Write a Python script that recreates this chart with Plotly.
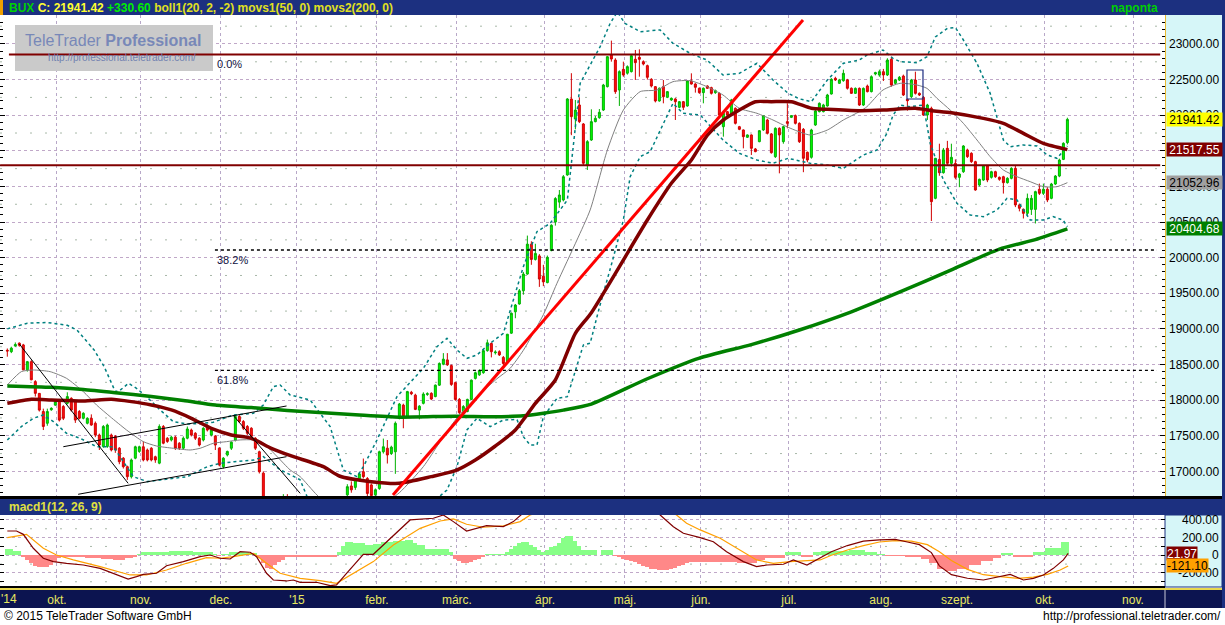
import plotly.graph_objects as go

W, H = 1225, 625
PR = 1165.0  # right edge of plotting area (px)


def pxx(p):
    return p / PR


def pxy(p):
    return 1 - p / H


# ---------------- DATA ----------------
opens = [
    18700, 18680, 18760, 18800, 18775, 18425, 18540, 18260, 18095, 17840,
    17675, 17865, 17930, 17980, 17910, 17955, 18025, 17980, 17840, 17745,
    17675, 17745, 17675, 17510, 17350, 17350, 17510, 17490, 17325, 17185,
    17065, 16925, 17185, 17280, 17345, 17300, 17325, 17205, 17115, 17630,
    17465, 17440, 17480, 17395, 17325, 17465, 17580, 17535, 17465, 17440,
    17620, 17510, 17495, 17325, 17065, 17230, 17325, 17440, 17770, 17700,
    17630, 17605, 17465, 17275, 16975, 16450, 16200, 16100, 16250, 16500,
    16600, 16450, 16550, 16300, 16100, 16200, 16000, 16150, 16300, 16250,
    16400, 16350, 16500, 16450, 16550, 16670, 16795, 16775, 16890, 16995,
    16900, 16810, 16670, 16760, 17275, 17325, 17250, 17275, 17745, 17930,
    17770, 18110, 18070, 17860, 17955, 18080, 18095, 18050, 18210, 18505,
    18565, 18485, 18245, 18010, 17830, 17840, 18010, 18305, 18355, 18385,
    18695, 18795, 18665, 18680, 18600, 18540, 18940, 19240, 19350, 19535,
    19770, 20190, 19975, 20025, 19740, 19650, 20100, 20500, 20780, 20810,
    21161, 22228, 21947, 22144, 21877, 21301, 21652, 21910, 21966, 22073,
    22401, 22846, 22775, 22354, 22644, 22590, 22612, 22785, 22813, 22752,
    22696, 22504, 22401, 22200, 22401, 22251, 22214, 22228, 22111, 22190,
    22130, 22481, 22438, 22378, 22317, 22410, 22387, 22317, 22307, 21839,
    22050, 22003, 22097, 21839, 21793, 21690, 21723, 21526, 21629, 21793,
    21933, 21737, 21418, 21816, 21629, 21910, 21970, 21994, 21886, 21802,
    21479, 21409, 21863, 22050, 22050, 22130, 22298, 22518, 22448, 22485,
    22495, 22378, 22307, 22377, 22143, 22410, 22331, 22579, 22565, 22611,
    22565, 22785, 22448, 22494, 22550, 22223, 22260, 22494, 22307, 22251,
    22003, 22097, 20833, 21380, 21193, 21535, 21324, 21324, 21128, 21207,
    21512, 21465, 21348, 21020, 21090, 21287, 21128, 21207, 21128, 21137,
    21053, 21114, 21254, 20740, 20679, 20622, 20678, 20678, 20960, 20903,
    20960, 20833, 21034, 21146, 21380, 21615]
highs = [
    18725, 18750, 18810, 18810, 18790, 18550, 18560, 18280, 18100, 17880,
    17880, 17900, 18000, 18000, 17930, 18110, 18040, 18000, 17860, 17830,
    17760, 17800, 17700, 17530, 17650, 17670, 17530, 17510, 17340, 17200,
    17080, 17180, 17360, 17360, 17420, 17320, 17340, 17220, 17660, 17650,
    17480, 17500, 17500, 17410, 17490, 17630, 17600, 17550, 17480, 17620,
    17660, 17600, 17510, 17340, 17200, 17290, 17420, 17800, 17790, 17720,
    17650, 17620, 17480, 17290, 17000, 16500, 16300, 16300, 16550, 16680,
    16680, 16600, 16580, 16350, 16250, 16250, 16200, 16350, 16350, 16450,
    16450, 16550, 16550, 16600, 16650, 16820, 16860, 16900, 16990, 17180,
    16920, 16830, 16760, 17290, 17460, 17440, 17360, 17700, 17960, 17950,
    18130, 18130, 18090, 17930, 18110, 18110, 18110, 18220, 18530, 18660,
    18660, 18500, 18260, 18030, 17930, 18020, 18290, 18400, 18430, 18700,
    18850, 18810, 18700, 18700, 18620, 18930, 19230, 19350, 19560, 19800,
    20310, 20230, 20195, 20050, 19900, 20030, 20470, 20850, 20950, 21160,
    22240, 22590, 22214, 22251, 21890, 21650, 22083, 21990, 22087, 22440,
    22830, 23047, 22800, 22630, 22752, 22700, 22850, 22916, 22925, 22770,
    22710, 22520, 22410, 22390, 22494, 22340, 22250, 22240, 22200, 22200,
    22490, 22588, 22450, 22390, 22390, 22420, 22400, 22360, 22320, 22040,
    22060, 22230, 22110, 21850, 21800, 21730, 21730, 21540, 21790, 22000,
    21950, 21750, 21830, 21830, 21850, 22167, 22000, 22010, 21900, 21820,
    21490, 21810, 22080, 22180, 22160, 22300, 22520, 22540, 22510, 22640,
    22510, 22390, 22390, 22390, 22390, 22430, 22560, 22610, 22640, 22650,
    22800, 22820, 22510, 22550, 22570, 22230, 22510, 22611, 22320, 22270,
    22160, 22120, 21400, 21600, 21540, 21640, 21600, 21380, 21190, 21580,
    21530, 21480, 21360, 21110, 21300, 21300, 21220, 21220, 21140, 21150,
    21130, 21270, 21300, 20760, 20690, 20900, 20880, 20940, 21040, 21040,
    20990, 21050, 21160, 21390, 21620, 21965]
lows = [
    18610, 18660, 18750, 18750, 18420, 18400, 18280, 18050, 17840, 17580,
    17640, 17850, 17920, 17700, 17720, 17940, 17840, 17680, 17730, 17730,
    17660, 17640, 17480, 17300, 17330, 17330, 17280, 17260, 17100, 17040,
    16880, 16900, 17170, 17260, 17140, 17140, 17140, 17120, 17100, 17380,
    17400, 17420, 17300, 17300, 17300, 17450, 17490, 17440, 17350, 17420,
    17560, 17490, 17300, 17070, 17040, 17210, 17300, 17420, 17680, 17580,
    17510, 17470, 17300, 16970, 16400, 16150, 15950, 16050, 16200, 16450,
    16400, 16400, 16250, 16050, 16050, 15950, 15950, 16100, 16200, 16200,
    16300, 16300, 16400, 16400, 16500, 16640, 16700, 16740, 16860, 16900,
    16650, 16600, 16600, 16740, 17250, 17110, 17230, 16965, 17730, 17605,
    17750, 18070, 17860, 17730, 17940, 18060, 18000, 18040, 18200, 18490,
    18480, 18200, 17990, 17800, 17810, 17830, 18000, 18290, 18340, 18370,
    18680, 18600, 18640, 18620, 18490, 18520, 18930, 19150, 19340, 19480,
    19760, 19900, 19960, 19590, 19600, 19640, 20090, 20450, 20700, 20790,
    21150, 21720, 21802, 21890, 21300, 21231, 21640, 21900, 21950, 22060,
    22390, 22752, 22300, 22130, 22540, 22570, 22600, 22495, 22541, 22700,
    22500, 22390, 22180, 22190, 22167, 22240, 22200, 21933, 22100, 22073,
    22120, 22430, 22317, 22300, 22167, 22370, 22290, 22300, 21990, 21699,
    21990, 21990, 21870, 21790, 21535, 21680, 21442, 21480, 21620, 21780,
    21730, 21460, 21400, 21184, 21600, 21816, 21960, 21870, 21610, 21200,
    21340, 21390, 21850, 22040, 22040, 22120, 22290, 22480, 22440, 22470,
    22360, 22300, 22300, 22130, 22130, 22320, 22320, 22560, 22540, 22480,
    22550, 22400, 22430, 22480, 22270, 22064, 22240, 22290, 22270, 21990,
    21933, 20515, 20820, 21150, 21180, 21300, 21280, 21100, 20990, 21190,
    21400, 21330, 20940, 21000, 21080, 21060, 21110, 21120, 21080, 20900,
    21040, 21100, 20710, 20650, 20550, 20600, 20600, 20480, 20880, 20880,
    20780, 20820, 21020, 21130, 21370, 21590]
closes = [
    18690, 18730, 18780, 18770, 18425, 18540, 18285, 18095, 17860, 17630,
    17840, 17885, 17980, 17720, 17745, 18050, 17860, 17720, 17745, 17815,
    17745, 17650, 17510, 17370, 17630, 17650, 17300, 17300, 17135, 17065,
    16925, 17160, 17345, 17345, 17160, 17160, 17160, 17160, 17630, 17395,
    17420, 17480, 17325, 17325, 17465, 17595, 17510, 17465, 17370, 17605,
    17580, 17580, 17370, 17090, 17185, 17280, 17410, 17770, 17700, 17605,
    17535, 17490, 17325, 16995, 16450, 16200, 16100, 16250, 16500, 16600,
    16450, 16550, 16300, 16100, 16200, 16000, 16150, 16300, 16250, 16400,
    16350, 16500, 16450, 16550, 16620, 16785, 16740, 16890, 16965, 16925,
    16690, 16660, 16740, 17275, 17345, 17230, 17340, 17675, 17945, 17770,
    18120, 18090, 17870, 17915, 18085, 18090, 18015, 18210, 18515, 18575,
    18495, 18220, 18010, 17825, 17910, 18010, 18280, 18385, 18415, 18695,
    18805, 18680, 18675, 18635, 18515, 18925, 19220, 19335, 19535, 19770,
    20190, 19975, 20060, 19700, 19660, 20005, 20455, 20830, 20880, 21137,
    22228, 21980, 22073, 21910, 21325, 21629, 21910, 21956, 22041, 22424,
    22822, 22789, 22331, 22612, 22565, 22682, 22836, 22738, 22785, 22719,
    22532, 22410, 22200, 22378, 22260, 22331, 22237, 22190, 22190, 22111,
    22481, 22438, 22392, 22317, 22378, 22378, 22307, 22345, 22003, 22027,
    22003, 22214, 21886, 21802, 21699, 21723, 21535, 21489, 21783, 21994,
    21746, 21474, 21816, 21723, 21839, 21886, 21994, 21886, 21629, 21395,
    21371, 21793, 22060, 22167, 22144, 22284, 22504, 22495, 22495, 22588,
    22378, 22307, 22377, 22143, 22377, 22331, 22541, 22597, 22611, 22565,
    22775, 22424, 22494, 22532, 22284, 22204, 22494, 22307, 22284, 22003,
    22143, 20786, 21395, 21193, 21512, 21324, 21409, 21128, 21175, 21568,
    21418, 21348, 20950, 21100, 21287, 21090, 21207, 21137, 21100, 21053,
    21114, 21254, 20740, 20693, 20622, 20833, 20833, 20927, 20903, 20960,
    20810, 21034, 21146, 21371, 21605, 21941.42]

# month starts (trading-day index) and labels
month_idx = [12, 33, 53, 72, 92, 112, 134, 154, 173, 195, 218, 237, 259, 281]
month_lbl = ["okt.", "nov.", "dec.", "'15", "febr.", "márc.", "ápr.", "máj.",
             "jún.", "júl.", "aug.", "szept.", "okt.", "nov."]

# indicator lines (trading-day index, value)
ma200_idx = [0, 11, 19, 27, 36, 44, 52, 61, 70, 80, 88, 98, 112, 121, 129, 134,
             139, 146, 160, 173, 186, 198, 211, 223, 236, 248, 257, 265]
ma200_val = [18200, 18180, 18150, 18105, 18050, 17995, 17930, 17895, 17855, 17820,
             17790, 17760, 17775, 17768, 17780, 17815, 17860, 17945, 18300, 18590,
             18780, 18985, 19240, 19515, 19830, 20120, 20254, 20404.68]
ma50_idx = [0, 6, 11, 19, 26, 31, 36, 41, 46, 51, 56, 61, 66, 71, 79, 83, 91, 98,
            106, 112, 117, 122, 127, 132, 137, 142, 146, 160, 166, 171, 175, 179,
            183, 187, 191, 196, 201, 205, 213, 219, 227, 231, 236, 244, 249, 254,
            259, 265]
ma50_val = [17955, 18012, 18002, 17988, 18012, 17979, 17932, 17862, 17745, 17604,
            17511, 17464, 17324, 17216, 17066, 16935, 16855, 16832, 16926, 17010,
            17160, 17356, 17581, 17955, 18283, 18938, 19228, 20529, 21044, 21371,
            21722, 21933, 22073, 22190, 22190, 22190, 22097, 22083, 22064, 22073,
            22097, 22064, 22036, 21956, 21886, 21746, 21605, 21517.55]
bb_mid_idx = [0, 3.5, 6.5, 10.7, 14.8, 19, 22.3, 25.7, 29.8, 34, 37.3, 41.5, 45.7,
              48.2, 51.5, 54.8, 58.2, 61.5, 64, 67.3, 70.7, 73.2, 77.4, 82, 88, 93,
              98, 104, 108, 112.4, 117.4, 122.4, 125.7, 129, 134, 137.4, 142.4,
              145.7, 150, 154, 158.2, 162.4, 166.4, 170.7, 174.9, 178.9, 183, 187.4,
              191.4, 195.2, 200.7, 205, 209, 213, 214.9, 218.9, 223.2, 227.4, 229.9,
              232.4, 235.7, 239, 242.4, 245.7, 249, 252.4, 255.7, 259, 262.4, 265]
bb_mid_val = [18213, 18400, 18423, 18400, 18306, 18119, 17932, 17768, 17581, 17417,
              17356, 17324, 17300, 17324, 17394, 17417, 17441, 17441, 17394, 17216,
              17020, 16926, 16668, 16450, 16400, 16500, 16700, 17066, 17400, 17750,
              18050, 18300, 18447, 18700, 19200, 19640, 20248, 20670, 21512, 22073,
              22331, 22354, 22471, 22485, 22401, 22284, 22097, 22027, 21933, 21830,
              21722, 21792, 21933, 22050, 22120, 22354, 22448, 22424, 22377, 22237,
              22073, 21886, 21652, 21418, 21231, 21137, 21067, 20997, 20997, 21052.96]
bb_up_idx = [0, 5, 10, 15, 17.4, 21.7, 24.2, 27, 28.2, 30.3, 32.3, 34.8, 38.2, 41.5,
             45, 48.3, 51.5, 56.5, 61.5, 64, 66.5, 68.2, 70.7, 75.7, 80.7, 84, 87.4,
             89, 92.4, 97.4, 104, 107.4, 109.9, 112.4, 114.9, 117.4, 120.7, 124, 129,
             132.4, 135.7, 140, 143.2, 148.2, 150.7, 152.5, 154.4, 158.2, 163.2,
             166.4, 170.7, 174.9, 178.9, 183, 187.4, 191.4, 195.2, 198, 201, 205, 209,
             213, 214.9, 218.9, 221.4, 223.2, 227.4, 229.9, 232, 235, 237, 239, 242.4,
             245.7, 249, 250.7, 254, 257.4, 259.9, 262.4, 265]
bb_up_val = [19000, 19080, 19090, 19050, 18985, 18704, 18470, 18119, 18140, 18236,
             18166, 18049, 17862, 17698, 17665, 17670, 17690, 17792, 17815, 17932,
             18189, 18213, 18072, 18002, 17628, 17019, 16926, 17066, 17440, 18049,
             18447, 18751, 18868, 18704, 18587, 18634, 18798, 18938, 19874, 20365,
             20482, 20810, 22448, 22963, 23290, 23450, 23290, 23173, 23197, 23009,
             22869, 22775, 22565, 22588, 22729, 22495, 22307, 22230, 22190, 22495,
             22729, 22775, 22845, 22916, 22799, 22752, 22738, 22822, 23100, 23220,
             23230, 23056, 22728, 22307, 21652, 21558, 21582, 21568, 21442, 21395,
             21568]
bb_lo_idx = [0, 3.5, 6.5, 9, 11.5, 14.8, 18.2, 22.3, 26.5, 31.5, 35, 38.3, 45, 50,
             53.3, 56.7, 61.7, 64, 68.3, 71.7, 73.2, 76, 80, 85, 90, 95, 100, 105,
             109.9, 112.4, 114.9, 117.4, 120.7, 124, 127.4, 129, 130.7, 132.4, 134,
             137.4, 140, 144, 145.7, 148, 151, 154, 155.7, 158.2, 160.7, 164, 166.4,
             168.9, 173.2, 178.9, 183, 187.4, 191.4, 195.2, 200.7, 205, 209, 211,
             214, 217.4, 219.9, 221.4, 223.2, 225.7, 229, 230.7, 234, 237.4, 240.7,
             244, 247.4, 249.9, 252.4, 255.7, 259, 261.4, 263.9, 265]
bb_lo_val = [17441, 17628, 17745, 17792, 17700, 17534, 17464, 17347, 17347, 16926,
             16856, 16880, 16926, 17066, 17113, 17135, 17160, 17207, 17019, 16926,
             16880, 16500, 16100, 15900, 15950, 16100, 16300, 16500, 16738, 17066,
             17581, 17745, 17628, 17721, 17730, 17487, 17370, 17370, 17768, 18025,
             18049, 18774, 18798, 19300, 19900, 20529, 21137, 21418, 21488, 21886,
             22167, 22027, 22003, 21652, 21465, 21371, 21325, 21395, 21325, 21301,
             21254, 21330, 21441, 21512, 21746, 22000, 22143, 22120, 22143, 21605,
             21090, 20763, 20599, 20576, 20669, 20833, 20810, 20529, 20529, 20576,
             20529, 20435]

# drawn trend lines: (start idx, start value, end idx, end value)
black_lines = [(3.0, 18788, 30.2, 16832), (14.0, 17346, 69.8, 17918),
               (17.7, 16678, 69.8, 17206), (56.4, 17791, 73.2, 16692)]
red_line = (96.4, 16668, 198.9, 23337)
hlines_darkred = [(0.4, 22853), (-1.8, 21296)]
fib_levels = [22853, 20108, 18418]
fib_labels = ["0.0%", "38.2%", "61.8%"]
box_mark = (224.9, 22228, 228.9, 22635)

# MACD panel
macd_idx = [0, 2.3, 4, 6.5, 9, 11.5, 14.8, 19, 23.2, 27.3, 30.2, 32.3, 34, 37.3,
            39.8, 44, 48.2, 50.7, 53.2, 55.7, 58.2, 60.7, 62.3, 64.8, 66.5, 69.8,
            71.5, 73.2, 77.3, 80.7, 82.3, 84.8, 87.3, 89, 91.5, 94, 98.2, 100.7,
            106.5, 109, 111.5, 114.8, 119.8, 124, 126.5, 128.2, 130, 135, 140, 145,
            150, 155, 160, 163.2, 166.5, 169, 173.2, 176.5, 179.8, 184, 187.3, 189.9,
            194, 196.5, 199.9, 203.2, 206, 210, 214, 218, 222, 225, 228, 231, 233,
            236, 240, 244, 248.2, 250.7, 254, 256.5, 259, 261.5, 264, 265.2]
macd_val = [275, 275, 237, 79, -34, -72, -91, -110, -148, -216, -269, -242, -216,
            -204, -118, -72, -16, 3, -34, -42, 41, 34, -16, -204, -280, -291, -280,
            -306, -306, -344, -336, -204, -72, 11, 11, 117, 305, 400, 419, 456, 381,
            275, 336, 324, 381, 456, 520, 600, 700, 800, 820, 750, 600, 456, 324, 249,
            200, 154, 41, -72, -129, -110, -102, -53, -110, -34, 40, 110, 160, 175,
            180, 150, 120, 30, -120, -220, -260, -280, -242, -216, -280, -261, -223,
            -148, -53, 21.97]
sig_idx = [0, 4.8, 9, 12.3, 16.5, 23.2, 30.7, 34.8, 39.8, 44.8, 49.8, 53.2, 56.5,
           61.5, 64.8, 68.2, 73.2, 78.2, 82.3, 86.5, 91.5, 96.5, 103.2, 108.2, 111.5,
           114.8, 119, 124, 128.2, 130.7, 135, 140, 145, 150, 155, 160, 165, 167.3,
           169.8, 173.2, 178.2, 184, 187.3, 191.5, 195.7, 203.2, 206, 210, 214, 218,
           222, 226, 230, 233, 236, 240, 244, 248.2, 252.7, 256.5, 260, 263.2, 265.2]
sig_val = [200, 237, 79, 3, -53, -129, -223, -223, -167, -91, -27, -34, -16, 22, -91,
           -204, -261, -287, -318, -204, -72, 117, 305, 388, 411, 351, 317, 332, 381,
           456, 520, 600, 680, 740, 740, 650, 520, 456, 362, 287, 192, 41, -53, -91,
           -72, -53, 0, 60, 110, 150, 165, 160, 120, 40, -60, -160, -220, -242, -261,
           -247, -216, -167, -121.10]
hist_start = [-0.5, 1.5, 3.5, 4.5, 5.5, 6.5, 7.5, 10.5, 11.5, 12.5,
              13.5, 16.5, 19.5, 23.5, 26.5, 29.5, 31.5, 32.5, 33.5, 36.5,
              40.5, 46.5, 51.5, 52.5, 53.5, 55.5, 60.5, 62.5, 63.5, 64.5,
              65.5, 66.5, 67.5, 68.5, 69.5, 71.5, 76.5, 80.5, 82.5, 83.5,
              84.5, 86.5, 89.5, 91.5, 93.5, 96.5, 99.5, 101.5, 102.5, 104.5,
              110.5, 111.5, 112.5, 113.5, 115.5, 116.5, 117.5, 118.5, 119.5, 123.5,
              124.5, 125.5, 126.5, 127.5, 128.5, 130.5, 131.5, 132.5, 133.5, 134.5,
              135.5, 136.5, 137.5, 138.5, 139.5, 141.5, 142.5, 143.5, 147.5, 148.5,
              151.5, 152.5, 153.5, 154.5, 155.5, 156.5, 157.5, 158.5, 159.5, 160.5,
              161.5, 162.5, 165.5, 166.5, 167.5, 168.5, 169.5, 170.5, 174.5, 182.5,
              187.5, 189.5, 194.5, 198.5, 201.5, 203.5, 206.5, 210.5, 214.5, 217.5,
              219.5, 224.5, 228.5, 230.5, 232.5, 234.5, 237.5, 240.5, 243.5, 246.5,
              248.5, 251.5, 256.5, 259.5, 263.5]
hist_end = 265.5
hist_val = [68, 50, -15, -50, -90, -120, -130, -110, -75, -35,
            -18, -25, -34, -45, -55, -35, -15, 15, 35, 42,
            46, 40, 12, -5, 15, 38, 30, -30, -90, -140,
            -150, -115, -80, -50, -25, -18, -22, -15, 40, 110,
            145, 140, 120, 130, 150, 165, 170, 140, 115, 72,
            40, -40, -70, -90, -75, -55, -45, -20, 20, 10,
            40, 75, 110, 140, 155, 120, 90, 60, 40, 60,
            90, 100, 140, 200, 215, 160, 100, 60, 5, 60,
            -5, -25, -40, -50, -60, -80, -100, -120, -135, -150,
            -160, -167, -155, -145, -125, -105, -85, -75, -72, -91,
            -50, -34, 34, -16, 34, 45, 50, 55, 40, 20,
            -10, -15, -40, -90, -150, -175, -150, -110, -70, -30,
            26, -16, 34, 79, 155]

# right-axis value boxes (value, text, background, text color)
price_boxes = [(closes[-1], "21941.42", "#ffff00", "#000000"),
               (ma50_val[-1], "21517.55", "#800000", "#ffffff"),
               (bb_mid_val[-1], "21052.96", "#a0a0a0", "#000000"),
               (ma200_val[-1], "20404.68", "#008000", "#ffffff")]
macd_boxes = [(macd_val[-1], "21.97", "#800000", "#ffffff"),
              (sig_val[-1], "-121.10", "#ffa000", "#000000")]
macd_ticks = [400, 200, 0, -200]
macd_tick_text = ["400.00", "200.00", "0", "-200.00"]

# ---------------- FIGURE ----------------
X0, X1 = -1.83, 289.4
YMAIN = (16654, 23407)
YMACD = (-348, 456)
FONT = "Liberation Sans, Arial, sans-serif"

n = len(closes)
xs = list(range(n))
fig = go.Figure()

fig.add_trace(go.Candlestick(
    x=xs, open=opens, high=highs, low=lows, close=closes,
    increasing=dict(line=dict(color="#00b000", width=1), fillcolor="#00ff00"),
    decreasing=dict(line=dict(color="#d00000", width=1), fillcolor="#ff1010"),
    whiskerwidth=0, xaxis="x", yaxis="y", showlegend=False, hoverinfo="skip"))

for ix, vv in [(bb_up_idx, bb_up_val), (bb_lo_idx, bb_lo_val)]:
    fig.add_trace(go.Scatter(x=ix, y=vv, mode="lines", xaxis="x", yaxis="y",
                             line=dict(color="#008080", width=1.5, dash="dot"),
                             showlegend=False, hoverinfo="skip"))
fig.add_trace(go.Scatter(x=bb_mid_idx, y=bb_mid_val, mode="lines", xaxis="x", yaxis="y",
                         line=dict(color="#808080", width=1, shape="spline", smoothing=0.6),
                         showlegend=False, hoverinfo="skip"))
fig.add_trace(go.Scatter(x=ma200_idx, y=ma200_val, mode="lines", xaxis="x", yaxis="y",
                         line=dict(color="#008000", width=3.5, shape="spline", smoothing=0.6),
                         showlegend=False, hoverinfo="skip"))
fig.add_trace(go.Scatter(x=ma50_idx, y=ma50_val, mode="lines", xaxis="x", yaxis="y",
                         line=dict(color="#800000", width=3.5, shape="spline", smoothing=0.6),
                         showlegend=False, hoverinfo="skip"))
for (a, b, c, d) in black_lines:
    fig.add_trace(go.Scatter(x=[a, c], y=[b, d], mode="lines", xaxis="x", yaxis="y",
                             line=dict(color="#000000", width=1),
                             showlegend=False, hoverinfo="skip"))
fig.add_trace(go.Scatter(x=[red_line[0], red_line[2]], y=[red_line[1], red_line[3]],
                         mode="lines", xaxis="x", yaxis="y",
                         line=dict(color="#ff0000", width=3),
                         showlegend=False, hoverinfo="skip"))

# MACD histogram as step bars
hx, hw, hc = [], [], []
bounds = hist_start + [hist_end]
for k, v in enumerate(hist_val):
    a, b = bounds[k], bounds[k + 1]
    hx.append((a + b) / 2)
    hw.append(b - a)
    hc.append("#88ff88" if v >= 0 else "#ff8888")
fig.add_trace(go.Bar(x=hx, y=hist_val, width=hw, marker=dict(color=hc, line=dict(width=0)),
                     xaxis="x2", yaxis="y2", showlegend=False, hoverinfo="skip"))
fig.add_trace(go.Scatter(x=sig_idx, y=sig_val, mode="lines", xaxis="x2", yaxis="y2",
                         line=dict(color="#ffa000", width=1.2),
                         showlegend=False, hoverinfo="skip"))
fig.add_trace(go.Scatter(x=macd_idx, y=macd_val, mode="lines", xaxis="x2", yaxis="y2",
                         line=dict(color="#800000", width=1.2),
                         showlegend=False, hoverinfo="skip"))

grid_pos = [m + 0.4 for m in month_idx]

shapes = []
# panels (drawn below, so axis labels stay on top)
HDR = "#1c3080"
shapes += [
    dict(type="rect", xref="paper", yref="paper", x0=0, x1=pxx(1222), y0=pxy(15), y1=1,
         fillcolor=HDR, line=dict(width=0), layer="below"),
    dict(type="rect", xref="paper", yref="paper", x0=0, x1=pxx(3), y0=pxy(15), y1=1,
         fillcolor="#f0a000", line=dict(width=0), layer="below"),
    dict(type="rect", xref="paper", yref="paper", x0=1, x1=pxx(1222), y0=pxy(496), y1=pxy(15),
         fillcolor="#d6f6f8", line=dict(width=0), layer="below"),
    dict(type="line", xref="paper", yref="paper", x0=pxx(1165.5), x1=pxx(1165.5),
         y0=pxy(496), y1=pxy(15), line=dict(color="#e8b830", width=1), layer="below"),
    dict(type="rect", xref="paper", yref="paper", x0=0, x1=pxx(1222), y0=pxy(499), y1=pxy(496),
         fillcolor="#000000", line=dict(width=0), layer="below"),
    dict(type="rect", xref="paper", yref="paper", x0=0, x1=pxx(1222), y0=pxy(515), y1=pxy(499),
         fillcolor=HDR, line=dict(width=0), layer="below"),
    dict(type="rect", xref="paper", yref="paper", x0=1, x1=pxx(1222), y0=pxy(587), y1=pxy(515),
         fillcolor="#d6f6f8", line=dict(color="#1c3080", width=1), layer="below"),
    dict(type="rect", xref="paper", yref="paper", x0=0, x1=1, y0=pxy(588), y1=pxy(586),
         fillcolor="#000000", line=dict(width=0), layer="below"),
    dict(type="rect", xref="paper", yref="paper", x0=0, x1=pxx(1222), y0=pxy(590), y1=pxy(588),
         fillcolor="#e8d850", line=dict(width=0), layer="below"),
    dict(type="rect", xref="paper", yref="paper", x0=0, x1=pxx(1222), y0=pxy(608), y1=pxy(590),
         fillcolor="#0c1450", line=dict(width=0), layer="below"),
    dict(type="line", xref="paper", yref="paper", x0=1, x1=1, y0=pxy(608), y1=pxy(590),
         line=dict(color="#c8c8d8", width=1), layer="below"),
    dict(type="rect", xref="paper", yref="paper", x0=pxx(1222), x1=pxx(1225), y0=pxy(608), y1=1,
         fillcolor=HDR, line=dict(width=0), layer="below"),
    dict(type="rect", xref="paper", yref="paper", x0=pxx(15), x1=pxx(213), y0=pxy(71), y1=pxy(25),
         fillcolor="#cacaca", line=dict(width=0), layer="above"),
]
# minor dashed grid rows
for lv in range(17250, 23500, 500):
    shapes.append(dict(type="line", xref="paper", yref="y", x0=0, x1=1, y0=lv, y1=lv,
                       line=dict(color="#a8b8a8", width=1, dash="2px,13px"), layer="below"))
for lv in [300, 100, -100, -300]:
    shapes.append(dict(type="line", xref="paper", yref="y2", x0=0, x1=1, y0=lv, y1=lv,
                       line=dict(color="#a8b8a8", width=1, dash="2px,13px"), layer="below"))
# horizontal level lines
for (xs0, lv) in hlines_darkred:
    shapes.append(dict(type="line", xref="x", yref="y", x0=xs0, x1=288.2, y0=lv, y1=lv,
                       line=dict(color="#800000", width=2)))
for lv in fib_levels[1:]:
    shapes.append(dict(type="line", xref="x", yref="y", x0=51.9, x1=287.4, y0=lv, y1=lv,
                       line=dict(color="#000000", width=1.3, dash="dot")))
shapes.append(dict(type="rect", xref="x", yref="y", x0=box_mark[0], x1=box_mark[2],
                   y0=box_mark[1], y1=box_mark[3], line=dict(color="#1c2c80", width=1.2)))

ann = []
ann.append(dict(
    xref="paper", yref="paper", x=pxx(7), y=pxy(8), xanchor="left", yanchor="middle",
    showarrow=False, font=dict(family=FONT, size=12),
    text=("<b><span style='color:#00d000'>BUX</span> "
          "<span style='color:#ffff30'>C: 21941.42</span> "
          "<span style='color:#00ee00'>+330.60</span> "
          "<span style='color:#e0e020'>boll1(20, 2, -2) movs1(50, 0) movs2(200, 0)</span></b>")))
ann.append(dict(xref="paper", yref="paper", x=pxx(1160), y=pxy(8), xanchor="right",
                yanchor="middle", showarrow=False,
                font=dict(family=FONT, size=12, color="#00d000"), text="<b>naponta</b>"))
ann.append(dict(xref="paper", yref="paper", x=pxx(7), y=pxy(507), xanchor="left",
                yanchor="middle", showarrow=False,
                font=dict(family=FONT, size=12, color="#e0e040"), text="<b>macd1(12, 26, 9)</b>"))
ann.append(dict(xref="paper", yref="paper", x=pxx(113), y=pxy(41), xanchor="center",
                yanchor="middle", showarrow=False,
                font=dict(family=FONT, size=16, color="#7888b8"),
                text="TeleTrader <b>Professional</b>"))
ann.append(dict(xref="paper", yref="paper", x=pxx(122), y=pxy(58), xanchor="center",
                yanchor="middle", showarrow=False,
                font=dict(family=FONT, size=10, color="#7080b0"),
                text="http://professional.teletrader.com/"))
for lv, lb in zip(fib_levels, fib_labels):
    ann.append(dict(xref="x", yref="y", x=51.9, y=lv, xanchor="left", yanchor="top",
                    yshift=-2, showarrow=False,
                    font=dict(family=FONT, size=11, color="#101040"), text=lb))
for v, t, bg, fc in price_boxes:
    ann.append(dict(xref="paper", yref="y", x=1, y=v, xanchor="left", yanchor="middle",
                    xshift=1, showarrow=False, bgcolor=bg, borderpad=0, width=55, height=13,
                    font=dict(family=FONT, size=12, color=fc), text=t))
for v, t in zip(macd_ticks, macd_tick_text):
    ann.append(dict(xref="paper", yref="y2", x=pxx(1221), y=v, xanchor="right",
                    yanchor="middle", showarrow=False,
                    font=dict(family=FONT, size=12, color="#000000"), text=t))
for v, t, bg, fc in macd_boxes:
    ann.append(dict(xref="paper", yref="y2", x=1, y=v, xanchor="left", yanchor="middle",
                    xshift=1, showarrow=False, bgcolor=bg, borderpad=0, height=13,
                    font=dict(family=FONT, size=12, color=fc), text=t))
ann.append(dict(xref="paper", yref="paper", x=pxx(9), y=pxy(599), xanchor="center",
                yanchor="middle", showarrow=False,
                font=dict(family=FONT, size=12, color="#e8e860"), text="'14"))
ann.append(dict(xref="paper", yref="paper", x=pxx(2), y=pxy(616), xanchor="left",
                yanchor="middle", showarrow=False,
                font=dict(family=FONT, size=12, color="#000000"),
                text="© 2015 TeleTrader Software GmbH"))
ann.append(dict(xref="paper", yref="paper", x=pxx(1223), y=pxy(616), xanchor="right",
                yanchor="middle", showarrow=False,
                font=dict(family=FONT, size=12, color="#000000"),
                text="http://professional.teletrader.com/"))

fig.update_layout(
    width=W, height=H, autosize=False,
    margin=dict(l=0, r=60, t=0, b=0, pad=0),
    paper_bgcolor="#ffffff", plot_bgcolor="#ffffff",
    hovermode=False, showlegend=False, bargap=0,
    shapes=shapes, annotations=ann,
    xaxis=dict(domain=[0, 1], range=[X0, X1], anchor="y", tickmode="array",
               tickvals=grid_pos, ticktext=month_lbl, showticklabels=False, ticks="",
               showgrid=True, gridcolor="#b8a8c8", griddash="dot", gridwidth=1,
               zeroline=False, showline=False, rangeslider=dict(visible=False)),
    yaxis=dict(domain=[pxy(496), pxy(15)], range=list(YMAIN), anchor="x", side="right",
               tick0=0, dtick=500, tickformat=".2f", showgrid=True, gridcolor="#c0a8c8",
               griddash="dot", gridwidth=1, zeroline=False, showline=False,
               ticks="inside", ticklen=5, tickcolor="#000000", mirror="ticks",
               minor=dict(dtick=100, ticks="inside", ticklen=3, tickcolor="#000000",
                          showgrid=False),
               ticklabelstandoff=3,
               tickfont=dict(family=FONT, size=12, color="#000000")),
    xaxis2=dict(domain=[0, 1], range=[X0, X1], anchor="y2", matches="x", tickmode="array",
                tickvals=grid_pos, ticktext=month_lbl, ticks="", showgrid=True,
                gridcolor="#b8a8c8", griddash="dot", gridwidth=1, zeroline=False,
                showline=False, ticklabelstandoff=5,
                tickfont=dict(family=FONT, size=12, color="#e8e860")),
    yaxis2=dict(domain=[pxy(586), pxy(515)], range=list(YMACD), anchor="x2", side="right",
                tick0=0, dtick=200, showticklabels=False, showgrid=True,
                gridcolor="#c0a8c8", griddash="dot", zeroline=False, showline=False,
                ticks="inside", ticklen=4, tickcolor="#000000", mirror="ticks",
                minor=dict(dtick=100, ticks="inside", ticklen=4, tickcolor="#000000",
                           showgrid=False)),
)

fig.write_html("out.html", config={"displayModeBar": False, "staticPlot": True},
               post_script="document.body.style.margin='0';")
